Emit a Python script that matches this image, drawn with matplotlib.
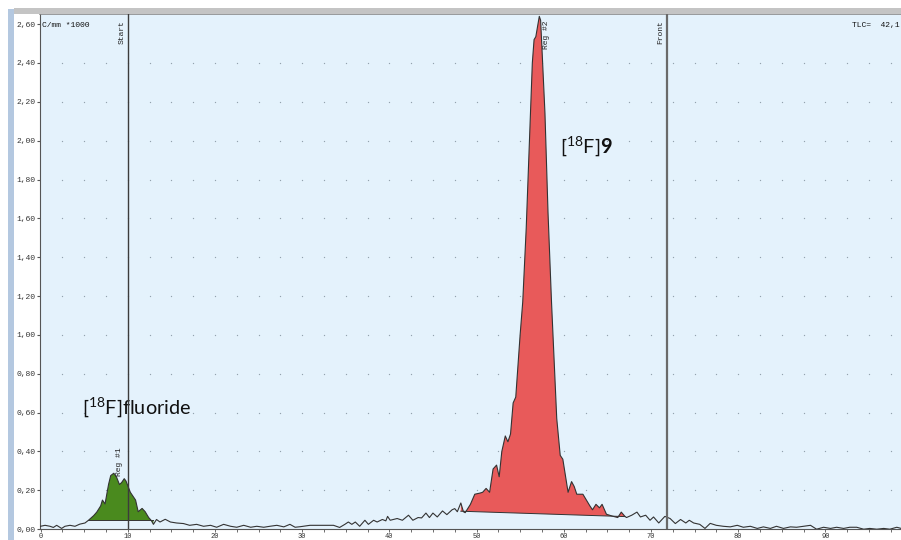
import numpy as np
import matplotlib
matplotlib.use("Agg")
import matplotlib.pyplot as plt
from matplotlib.patches import Rectangle

plt.rcParams['mathtext.fontset'] = 'custom'
plt.rcParams['mathtext.rm'] = 'Lato'
plt.rcParams['mathtext.bf'] = 'Lato:bold'

# ---- data ----
trace_x = [0.0, 0.52, 1.09, 1.47, 1.85, 2.42, 2.8, 3.38, 3.95, 4.5, 5.1,
           5.5, 6.1, 6.45, 6.9, 7.1, 7.4, 7.8, 8.05, 8.4, 8.7, 9.05, 9.3, 9.6, 9.8,
           10.3, 10.6, 10.9, 11.2, 11.65, 12.0, 12.4, 12.7, 12.95, 13.3,
           13.7, 14.3, 14.9, 15.6, 16.4, 17.1, 17.9, 18.7, 19.5, 20.2, 21.0, 21.8,
           22.5, 23.3, 24.1, 24.8, 25.6, 26.3, 27.1, 27.9, 28.6, 29.2, 29.8,
           30.9, 32.1, 33.6, 34.3, 34.9, 35.3, 35.7, 36.1, 36.6, 37.2, 37.6, 38.2,
           38.6, 39.2, 39.6, 39.8, 40.1, 40.9, 41.5, 42.2, 42.7, 43.3, 43.7, 44.2,
           44.6, 45.0, 45.5, 46.1, 46.6, 47.2, 47.5, 47.8,
           48.2, 48.5, 48.7, 49.3, 49.8, 50.4, 50.7, 51.1, 51.5, 51.9, 52.3, 52.6,
           52.9, 53.3, 53.6, 53.9, 54.2, 54.5, 55.0, 55.3, 55.7, 56.05, 56.4, 56.6,
           56.8, 57.2, 57.35, 57.5, 57.85, 58.2, 58.6, 59.2, 59.6, 59.9, 60.5, 60.9,
           61.2, 61.5, 62.2, 63.0, 63.3, 63.7, 64.1, 64.4, 64.9, 65.6, 66.2, 66.6,
           67.0, 67.2, 67.8, 68.4, 68.8, 69.4, 69.9, 70.3, 70.9, 71.6, 72.2, 72.8,
           73.4, 74.0, 74.4, 74.9, 75.6, 76.2, 76.8, 77.5, 78.3, 79.1, 79.9, 80.6,
           81.4, 82.2, 82.9, 83.7, 84.4, 85.2, 86.0, 86.7, 87.5, 88.3, 89.0, 89.8,
           90.6, 91.3, 92.1, 92.8, 93.6, 94.4, 95.1, 95.9, 96.7, 97.4, 98.2, 98.7]
trace_y = [0.015, 0.02, 0.015, 0.009, 0.02, 0.004, 0.015, 0.02, 0.015, 0.026, 0.032,
           0.046, 0.07, 0.088, 0.12, 0.15, 0.13, 0.23, 0.276, 0.288, 0.27, 0.23, 0.24, 0.26, 0.248,
           0.19, 0.17, 0.15, 0.09, 0.107, 0.09, 0.06, 0.045, 0.025, 0.05,
           0.037, 0.051, 0.037, 0.032, 0.029, 0.02, 0.025, 0.015, 0.02, 0.01, 0.025, 0.015,
           0.01, 0.02, 0.01, 0.015, 0.01, 0.015, 0.02, 0.012, 0.025, 0.01, 0.013,
           0.02, 0.02, 0.02, 0.009, 0.025, 0.037, 0.025, 0.037, 0.015, 0.046, 0.025, 0.046,
           0.037, 0.05, 0.043, 0.066, 0.046, 0.055, 0.046, 0.072, 0.046, 0.06, 0.058, 0.083,
           0.06, 0.083, 0.063, 0.094, 0.075, 0.10, 0.106, 0.09,
           0.135, 0.09, 0.085, 0.128, 0.18, 0.186, 0.19, 0.21, 0.19, 0.31, 0.33, 0.27,
           0.40, 0.48, 0.45, 0.49, 0.65, 0.68, 1.0, 1.17, 1.55, 1.97, 2.40, 2.52,
           2.535, 2.64, 2.62, 2.48, 2.14, 1.63, 1.17, 0.57, 0.38, 0.36, 0.19, 0.245,
           0.22, 0.18, 0.18, 0.12, 0.10, 0.128, 0.11, 0.128, 0.077, 0.067, 0.06, 0.088,
           0.067, 0.06, 0.072, 0.088, 0.063, 0.072, 0.046, 0.063, 0.032, 0.066, 0.055, 0.029,
           0.05, 0.032, 0.046, 0.032, 0.025, 0.004, 0.03, 0.02, 0.015, 0.012, 0.02, 0.01,
           0.015, 0.004, 0.012, 0.004, 0.015, 0.004, 0.012, 0.01, 0.015, 0.02, 0.0, 0.01,
           0.004, 0.01, 0.004, 0.01, 0.01, 0.0, 0.004, 0.0, 0.004, 0.0, 0.01, 0.004]

# integration regions: (x_start, x_end, baseline at start, baseline at end)
reg1 = (5.5, 12.95, 0.046, 0.046)
reg2 = (47.9, 67.0, 0.093, 0.065)

start_x = 10.0
front_x = 71.8

yticks = [0.0, 0.2, 0.4, 0.6, 0.8, 1.0, 1.2, 1.4, 1.6, 1.8, 2.0, 2.2, 2.4, 2.6]
ytick_labels = ['0,00', '0,20', '0,40', '0,60', '0,80', '1,00', '1,20', '1,40',
                '1,60', '1,80', '2,00', '2,20', '2,40', '2,60']
xticks = [0, 10, 20, 30, 40, 50, 60, 70, 80, 90]
xtick_labels = ['0', '10', '20', '30', '40', '50', '60', '70', '80', '90']

# ---- figure ----
W, H = 901, 540
fig = plt.figure(figsize=(W / 100, H / 100), dpi=100)
fig.patch.set_facecolor('white')

# window decoration
fig.add_artist(Rectangle((8 / W, 0), 6 / W, (H - 9) / H, transform=fig.transFigure,
                         facecolor='#b4c8e0', edgecolor='none'))
fig.add_artist(Rectangle((14 / W, (H - 14) / H), (W - 14) / W, 6 / H, transform=fig.transFigure,
                         facecolor='#c4c4c4', edgecolor='none'))

ax_left, ax_right = 40 / W, 1.0
ax_bottom, ax_top = (H - 529.2) / H, (H - 14) / H
ax = fig.add_axes([ax_left, ax_bottom, ax_right - ax_left, ax_top - ax_bottom])
ax.set_facecolor('#e4f2fc')
ax.set_xlim(-0.06, 98.68)
ax.set_ylim(0, 2.652)

tx = np.array(trace_x)
ty = np.array(trace_y)

# dotted grid (points)
gx, gy = np.meshgrid(np.arange(2.5, 98.7, 2.5), np.arange(0.2, 2.41, 0.2))
ax.scatter(gx.ravel(), gy.ravel(), s=0.9, color='#93a2ae', linewidths=0, zorder=1)

# filled regions
for (x0, x1, b0, b1), col in [(reg1, '#4a8a1e'), (reg2, '#e85a5a')]:
    m = (tx >= x0) & (tx <= x1)
    xs = tx[m]
    ys = ty[m]
    base = np.interp(xs, [x0, x1], [b0, b1])
    ax.fill_between(xs, ys, base, facecolor=col, edgecolor='none', zorder=2)
    ax.plot([xs[0], xs[-1]], [base[0], base[-1]], color='#333333', lw=0.7, zorder=3)

ax.plot(tx, ty, color='#333333', lw=0.8, zorder=4)

# start / front lines
ax.axvline(start_x, color='#3c3c3c', lw=1.0, zorder=5)
ax.axvline(front_x, color='#6a6a6a', lw=1.6, zorder=5)

mono = 'Liberation Mono'
ax.text(start_x - 0.25, 2.62, 'Start', rotation=90, ha='right', va='top',
        family=mono, fontsize=5.8, color='#222222')
ax.text(front_x - 0.3, 2.62, 'Front', rotation=90, ha='right', va='top',
        family=mono, fontsize=5.8, color='#222222')
ax.text(58.0, 2.62, 'Reg #2', rotation=90, ha='center', va='top',
        family=mono, fontsize=5.8, color='#222222')
ax.text(9.1, 0.345, 'Reg #1', rotation=90, ha='center', va='center',
        family=mono, fontsize=5.8, color='#222222')
ax.text(0.2, 2.595, 'C/mm *1000', ha='left', va='center',
        family=mono, fontsize=5.8, color='#111111')
ax.text(93.1, 2.595, 'TLC=  42,1', ha='left', va='center',
        family=mono, fontsize=5.8, color='#111111')

# labels of peaks
ax.text(4.75, 0.625, r'[$^{18}$F]fluoride', ha='left', va='center',
        family='Lato', fontsize=14.3, color='#111111')
ax.text(59.55, 1.97, r'[$^{18}$F]$\mathbf{9}$', ha='left', va='center',
        family='Lato', fontsize=14.3, color='#111111')

# axes styling
ax.spines['right'].set_visible(False)
ax.spines['left'].set_color('#555555')
ax.spines['bottom'].set_color('#555555')
ax.spines['top'].set_color('#8a8a8a')
ax.spines['top'].set_linewidth(1.2)

ax.set_yticks(yticks)
ax.set_yticklabels(ytick_labels, family=mono, fontsize=5.8, color='#333333')
ax.set_xticks(xticks)
ax.set_xticklabels(xtick_labels, family=mono, fontsize=5.0, color='#333333')
ax.set_xticks(np.arange(0, 98.7, 2.5), minor=True)
ax.tick_params(axis='y', direction='out', length=2, width=0.8, color='#555555', pad=1)
ax.tick_params(axis='x', which='both', direction='out', length=2, width=0.6,
               color='#555555', pad=0.5)

fig.savefig('out.png', dpi=100, facecolor=fig.get_facecolor())
